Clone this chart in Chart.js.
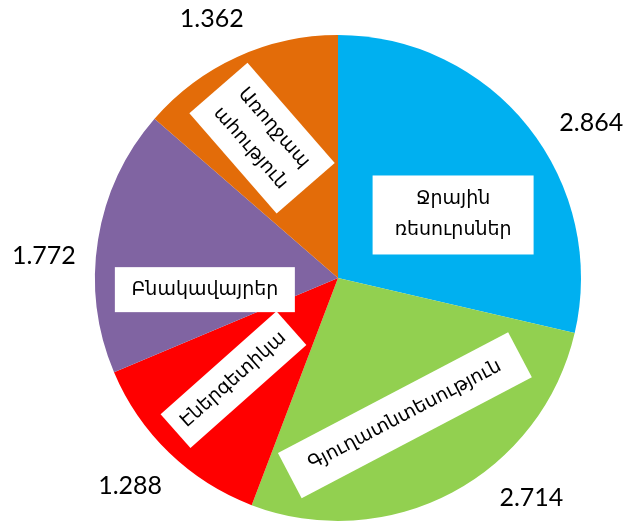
<!DOCTYPE html>
<html>
<head>
<meta charset="utf-8">
<script src="https://cdn.jsdelivr.net/npm/chart.js@4/dist/chart.umd.min.js"></script>
<style>
html,body{margin:0;padding:0;background:#fff;}
#wrap{width:629px;height:522px;position:relative;}
</style>
</head>
<body>
<div id="wrap"><canvas id="c" width="629" height="522"></canvas></div>
<script>
// Data
const categories = [
  ["Ջրային", "ռեսուրսներ"],
  ["Գյուղատնտեսություն"],
  ["Էներգետիկա"],
  ["Բնակավայրեր"],
  ["Առողջապ", "ահություն"]
];
const values = [2.864, 2.714, 1.288, 1.772, 1.362];
const valueLabels = ["2.864", "2.714", "1.288", "1.772", "1.362"];
const colors = ["#00B0F0", "#92D050", "#FF0000", "#8064A2", "#E36C09"];

// Label placement (styling): angle in degrees clockwise from top, radius as fraction of outer radius
const valuePlace = [
  {a: 58.5, r: 1.222}, {a: 138.7, r: 1.206}, {a: 225, r: 1.21}, {a: 274.3, r: 1.214}, {a: 334, r: 1.185}
];
const boxPlace = [
  {a: 61.3, r: 0.54, rot: 0, w: 161, h: 79},
  {a: 154, r: 0.628, rot: -27.7, w: 260, h: 51},
  {a: 225.8, r: 0.60, rot: -41.6, w: 155, h: 45},
  {a: 265, r: 0.55, rot: 0, w: 180, h: 45},
  {a: 331.5, r: 0.655, rot: 49, w: 133, h: 77}
];

const labelPlugin = {
  id: 'labels',
  afterDraw(chart) {
    const ctx = chart.ctx;
    const meta = chart.getDatasetMeta(0);
    meta.data.forEach((arc, i) => {
      const cx = arc.x, cy = arc.y, R = arc.outerRadius;
      const bp = boxPlace[i];
      const ba = bp.a * Math.PI / 180;
      const bx = cx + Math.sin(ba) * R * bp.r;
      const by = cy - Math.cos(ba) * R * bp.r;
      ctx.save();
      ctx.translate(bx, by);
      ctx.rotate(bp.rot * Math.PI / 180);
      ctx.fillStyle = '#ffffff';
      ctx.fillRect(-bp.w / 2, -bp.h / 2, bp.w, bp.h);
      ctx.fillStyle = '#000000';
      ctx.font = '19px "DejaVu Sans", sans-serif';
      ctx.textAlign = 'center';
      ctx.textBaseline = 'middle';
      const lines = categories[i];
      const lh = 31;
      lines.forEach((t, k) => {
        ctx.fillText(t, 0, (k - (lines.length - 1) / 2) * lh);
      });
      ctx.restore();
      const vp = valuePlace[i];
      const va = vp.a * Math.PI / 180;
      const vx = cx + Math.sin(va) * R * vp.r;
      const vy = cy - Math.cos(va) * R * vp.r;
      ctx.save();
      ctx.fillStyle = '#000000';
      ctx.font = '25px Lato, "Liberation Sans", sans-serif';
      ctx.textAlign = 'center';
      ctx.textBaseline = 'middle';
      ctx.fillText(valueLabels[i], vx, vy);
      ctx.restore();
    });
  }
};

new Chart(document.getElementById('c'), {
  type: 'pie',
  data: {
    labels: categories.map(l => l.join(' ')),
    datasets: [{
      data: values,
      backgroundColor: colors,
      borderWidth: 0
    }]
  },
  options: {
    responsive: false,
    animation: false,
    layout: {padding: {left: 95, right: 48, top: 35, bottom: 1}},
    plugins: {legend: {display: false}, tooltip: {enabled: false}}
  },
  plugins: [labelPlugin]
});
</script>
</body>
</html>
